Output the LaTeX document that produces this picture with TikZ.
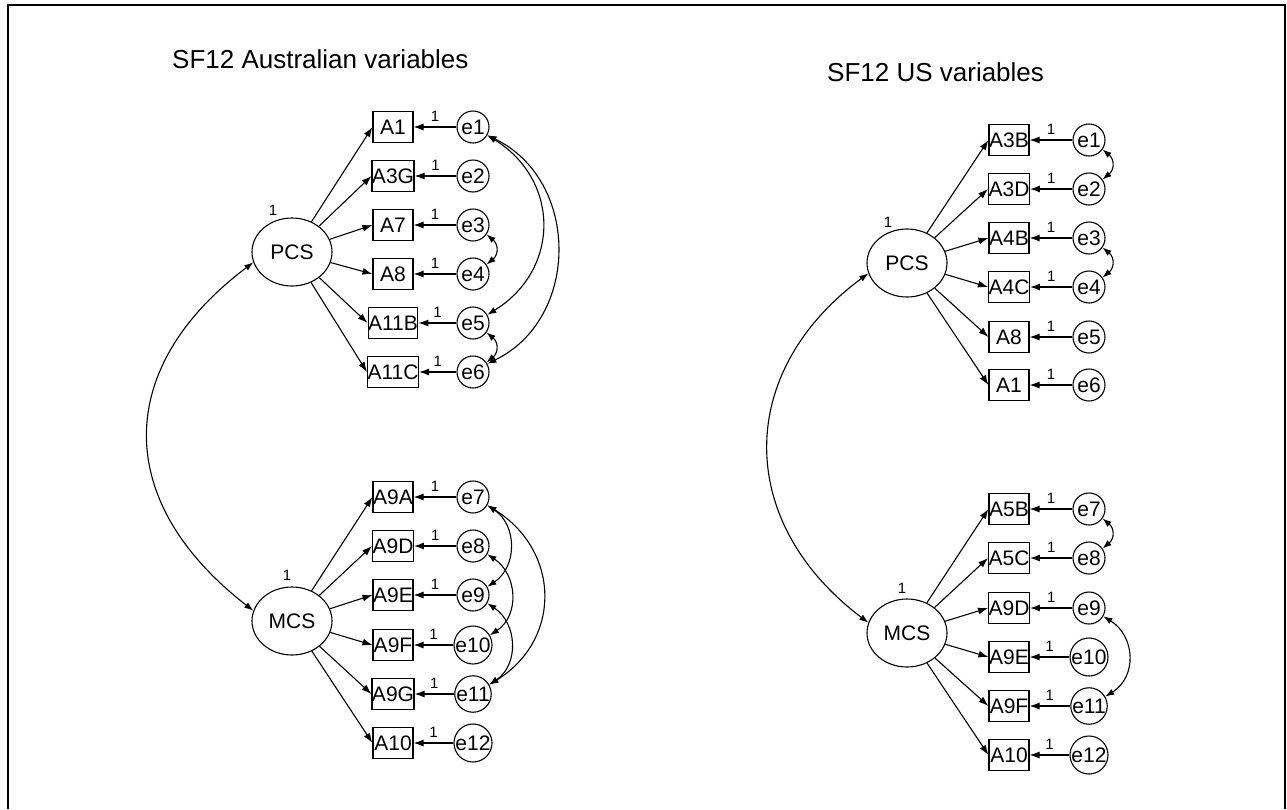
\documentclass[tikz,border=0pt]{standalone}
\usepackage{fontspec}
\setmainfont{Liberation Sans}
\usetikzlibrary{arrows.meta,shapes.geometric}
\begin{document}
\begin{tikzpicture}[x=1pt,y=-1pt,
  obs/.style={draw,line width=1.1pt,minimum width=40pt,minimum height=31pt,inner sep=0pt,font=\fontsize{21}{23}\selectfont},
  err/.style={draw,circle,line width=1.1pt,minimum size=32pt,inner sep=0pt,font=\fontsize{21}{23}\selectfont},
  lat/.style={draw,ellipse,line width=1.1pt,minimum width=80pt,minimum height=68pt,inner sep=0pt,font=\fontsize{21}{23}\selectfont},
  load/.style={-{Latex[length=10pt,width=7pt]},line width=1.1pt},
  cov/.style={{Latex[length=9pt,width=6.5pt]}-{Latex[length=9pt,width=6.5pt]},line width=1.1pt},
  one/.style={font=\fontsize{15}{16}\selectfont,inner sep=0pt,above=5pt},
  var/.style={font=\fontsize{15}{16}\selectfont,inner sep=0pt},
  title/.style={font=\fontsize{26}{28}\selectfont,inner sep=0pt,anchor=base west}
]
\useasboundingbox (0,0) rectangle (1287,809);
% outer frame (open at the bottom edge)
\draw[line width=2pt] (8,809) -- (8,5) -- (1285,5) -- (1285,809);

% ---------- left model ----------
\node[title] (ltitle) at (172,68) {SF12 Australian variables};
\node[lat] (lpcs) at (292,252) {PCS};
\node[lat] (lmcs) at (292,621) {MCS};
\node[var] (lpcsv) at (273,210) {1};
\node[var] (lmcsv) at (287,575) {1};

\foreach \lab/\y [count=\i] in {A1/127,A3G/176,A7/225,A8/274,A11B/323,A11C/372} {
  \node[obs] (la\i) at (393,\y) {\lab};
  \node[err] (le\i) at (473,\y) {e\i};
  \draw[load] (le\i) -- node[one]{1} (la\i);
  \draw[load] (lpcs) -- (la\i.west);
}
\foreach \lab/\y [count=\i, evaluate=\i as \j using int(\i+6)] in {A9A/497,A9D/546,A9E/595,A9F/645,A9G/694,A10/743} {
  \node[obs] (la\j) at (393,\y) {\lab};
  \node[err] (le\j) at (473,\y) {e\j};
  \draw[load] (le\j) -- node[one]{1} (la\j);
  \draw[load] (lmcs) -- (la\j.west);
}

\draw[cov] (lpcs.195) .. controls (113,368) and (113,502) .. (lmcs.165);

\draw[cov] (le1.-30) .. controls +(73,45) and +(73,-45) .. (le5.30);
\draw[cov] (le1.-30) .. controls +(93,45) and +(93,-45) .. (le6.30);
\draw[cov] (le3.-35) .. controls +(12,10) and +(12,-10) .. (le4.35);
\draw[cov] (le5.-35) .. controls +(12,10) and +(12,-10) .. (le6.35);
\draw[cov] (le7.-30) .. controls +(30,20) and +(30,-20) .. (le9.30);
\draw[cov] (le8.-30) .. controls +(30,20) and +(30,-20) .. (le10.30);
\draw[cov] (le9.-30) .. controls +(30,20) and +(30,-20) .. (le11.30);
\draw[cov] (le7.-30) .. controls +(73,45) and +(73,-45) .. (le11.30);

% ---------- right model ----------
\node[title] (rtitle) at (827,81) {SF12 US variables};
\node[lat] (rpcs) at (907,263) {PCS};
\node[lat] (rmcs) at (907,633) {MCS};
\node[var] (rpcsv) at (888,222) {1};
\node[var] (rmcsv) at (902,588) {1};

\foreach \lab/\y [count=\i] in {A3B/140,A3D/189,A4B/238,A4C/287,A8/337,A1/385} {
  \node[obs] (ra\i) at (1009,\y) {\lab};
  \node[err] (re\i) at (1089,\y) {e\i};
  \draw[load] (re\i) -- node[one]{1} (ra\i);
  \draw[load] (rpcs) -- (ra\i.west);
}
\foreach \lab/\y [count=\i, evaluate=\i as \j using int(\i+6)] in {A5B/509,A5C/558,A9D/608,A9E/657,A9F/706,A10/755} {
  \node[obs] (ra\j) at (1009,\y) {\lab};
  \node[err] (re\j) at (1089,\y) {e\j};
  \draw[load] (re\j) -- node[one]{1} (ra\j);
  \draw[load] (rmcs) -- (ra\j.west);
}

\draw[cov] (rpcs.195) .. controls (735,372) and (735,522) .. (rmcs.165);

\draw[cov] (re1.-35) .. controls +(12,10) and +(12,-10) .. (re2.35);
\draw[cov] (re3.-35) .. controls +(12,10) and +(12,-10) .. (re4.35);
\draw[cov] (re7.-35) .. controls +(12,10) and +(12,-10) .. (re8.35);
\draw[cov] (re9.-30) .. controls +(32,20) and +(32,-20) .. (re11.30);
\end{tikzpicture}
\end{document}
